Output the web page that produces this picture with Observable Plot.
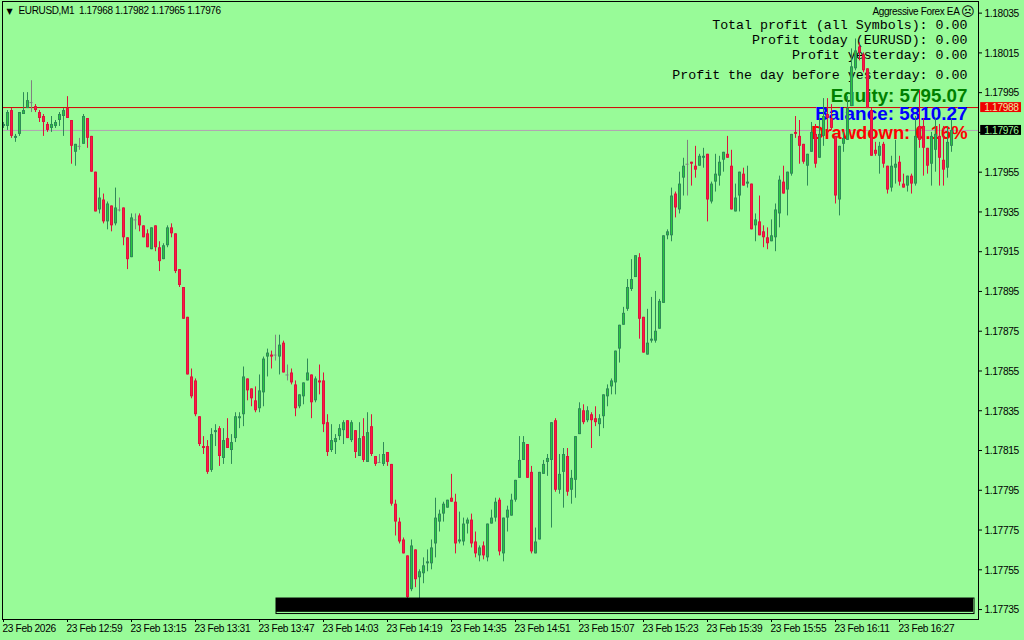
<!DOCTYPE html>
<html>
<head>
<meta charset="utf-8">
<script src="https://cdn.jsdelivr.net/npm/d3@7"></script>
<script src="https://cdn.jsdelivr.net/npm/@observablehq/plot@0.6"></script>
<style>html,body{margin:0;padding:0;background:#98FB98}svg{display:block}
[aria-label="x-axis tick label"] text,[aria-label="y-axis tick label"] text,.tah text{letter-spacing:-0.36px}</style>
</head>
<body>
<div id="chart"></div>
<script>
// Prices are stored as points above 1.17000
const opens = [
978,978,986,972,974,984,987,990,988,985,
983,979,977,978,981,983,987,981,965,968,
969,982,973,955,936,941,930,938,929,936,
937,922,912,931,933,928,924,916,928,917,
911,918,927,924,906,897,882,852,850,832,
817,817,805,824,826,811,821,815,821,831,
833,851,846,840,836,844,862,863,863,862,
869,853,854,848,837,842,850,853,840,850,
850,829,815,819,822,825,830,820,825,812,
822,809,827,812,809,808,814,808,788,779,
770,762,745,765,751,753,758,758,768,779,
783,786,791,789,769,769,778,780,769,762,
767,761,778,781,790,763,781,782,790,801,
810,818,804,763,770,803,809,810,830,795,
804,812,795,800,823,835,830,833,831,828,
832,842,847,849,866,878,886,896,902,912,
882,863,870,870,876,889,923,923,944,936,
952,959,960,958,958,962,964,940,950,953,
961,964,958,935,943,954,949,949,928,930,
925,922,920,922,934,950,946,954,975,973,
969,958,965,974,962,973,984,982,973,941,
969,971,988,1007,1018,1014,1007,986,966,963,
969,958,947,957,960,949,948,953,949,978,
978,967,959,966,973,961,957,968];
const closes = [
979,985,973,973,985,986,991,990,986,982,
980,976,979,980,984,986,982,968,969,968,
983,972,955,935,942,930,939,928,937,936,
922,911,932,931,928,922,917,927,917,910,
918,927,924,905,898,881,853,842,833,818,
816,804,823,825,812,820,816,819,832,832,
852,845,841,835,845,861,864,862,863,868,
854,853,849,836,843,849,854,839,851,849,
828,814,820,821,826,829,821,829,814,821,
810,824,813,808,809,813,809,788,779,769,
763,741,767,750,754,757,759,766,781,783,
788,790,789,768,770,778,780,768,763,766,
762,778,781,789,764,781,785,790,800,810,
819,801,764,769,804,808,811,829,795,803,
813,794,801,822,836,829,835,830,829,831,
843,846,850,865,878,884,897,901,913,881,
864,869,871,875,890,923,925,943,937,949,
958,959,959,956,963,963,941,949,954,960,
965,962,936,942,955,948,950,926,931,923,
922,919,923,936,951,944,955,974,974,968,
960,964,975,959,974,983,982,977,943,968,
972,987,1008,1016,1015,1006,987,963,964,968,
959,946,958,959,950,947,953,949,973,971,
967,958,973,974,962,956,970,976];
const highs = [
980,986,987,974,985,995,995,1001,989,986,
984,980,983,981,985,987,993,981,969,972,
984,982,973,955,947,944,940,938,947,942,
937,922,934,934,934,928,926,927,928,920,
919,928,929,924,906,897,882,856,851,832,
822,820,826,828,827,826,831,823,834,834,
857,851,846,847,853,862,866,865,873,873,
870,858,856,850,843,849,861,853,852,858,
854,833,828,823,828,830,830,830,825,829,
831,834,833,812,813,819,814,808,790,781,
771,762,770,765,755,761,765,770,791,785,
789,790,803,793,784,781,781,783,774,767,
769,778,785,791,791,781,787,793,800,822,
822,818,807,776,804,810,813,829,831,813,
816,816,805,822,839,838,837,834,837,833,
843,848,851,865,878,887,901,911,913,914,
882,886,892,895,891,923,926,947,945,955,
962,971,960,968,964,967,964,950,964,963,
965,973,966,949,955,957,958,949,934,943,
928,927,931,939,953,958,955,974,983,981,
969,964,980,979,982,992,992,989,973,968,
975,993,1017,1022,1020,1015,1007,987,970,970,
970,958,963,971,963,954,953,954,983,996,
982,967,975,982,979,978,978,982];
const lows = [
977,976,972,970,973,984,987,985,985,980,
973,975,975,977,978,973,982,959,958,966,
969,967,955,935,934,929,926,925,928,935,
918,906,912,926,925,922,917,916,915,905,
911,917,922,904,897,881,853,841,832,817,
813,803,804,817,807,808,816,808,819,826,
827,840,837,834,834,837,852,856,860,853,
854,850,848,832,836,838,850,831,839,843,
824,812,814,813,820,818,821,819,811,812,
809,809,812,807,809,807,807,787,772,768,
763,740,744,746,740,748,754,755,761,774,
779,786,789,763,768,767,773,766,761,759,
760,759,778,779,762,759,774,782,789,801,
810,801,763,763,770,803,802,776,794,793,
786,792,788,791,823,828,829,816,827,822,
826,837,843,843,859,878,885,895,902,871,
864,863,869,869,876,889,921,920,932,934,
943,943,948,952,958,957,930,939,945,948,
955,962,936,935,935,948,947,926,920,923,
917,916,920,915,927,944,933,953,972,959,
959,948,965,957,962,968,974,976,939,933,
965,971,988,1006,1011,1005,987,963,963,954,
957,944,945,949,948,947,945,944,948,967,
953,954,948,955,948,948,952,965];

const timeLabels = ["23 Feb 2026","23 Feb 12:59","23 Feb 13:15","23 Feb 13:31","23 Feb 13:47","23 Feb 14:03","23 Feb 14:19","23 Feb 14:35","23 Feb 14:51","23 Feb 15:07","23 Feb 15:23","23 Feb 15:39","23 Feb 15:55","23 Feb 16:11","23 Feb 16:27"];
const barsPerLabel = 16;
const priceTicks = [1.17735,1.17755,1.17775,1.17795,1.17815,1.17835,1.17855,1.17875,1.17895,1.17915,1.17935,1.17955,1.17975,1.17995,1.18015,1.18035];
const priceLabels = [1.17735,1.17755,1.17775,1.17795,1.17815,1.17835,1.17855,1.17875,1.17895,1.17915,1.17935,1.17955,1.17995,1.18015,1.18035];
const bidPrice = 1.17988;
const lastPrice = 1.17976;
const infoLines = ["Total profit (all Symbols): 0.00","Profit today (EURUSD): 0.00","Profit yesterday: 0.00","Profit the day before yesterday: 0.00"];
const statLines = ["Equity: 5795.07","Balance: 5810.27","Drawdown: 0.16%"];
const header = "EURUSD,M1  1.17968 1.17982 1.17965 1.17976";
const eaName = "Aggressive Forex EA";

const BG = "#98FB98";
const toPrice = p => 1.17 + p / 1e5;
const candles = closes.map((c, i) => ({
  i,
  open: toPrice(opens[i]), close: toPrice(c), high: toPrice(highs[i]), low: toPrice(lows[i]),
  top: toPrice(Math.max(opens[i], c)), bottom: toPrice(Math.min(opens[i], c))
}));
const up = candles.filter((d, i) => closes[i] > opens[i]);
const down = candles.filter((d, i) => closes[i] < opens[i]);
const flat = candles.filter((d, i) => closes[i] === opens[i]);
const tickIdx = timeLabels.map((_, k) => k * barsPerLabel);

const candleMarks = (rows, edge, fill) => [
  Plot.ruleX(rows, {x: "i", y1: "high", y2: "low", stroke: edge, strokeWidth: 1}),
  Plot.ruleX(rows, {x: "i", y1: "top", y2: "bottom", stroke: edge, strokeWidth: 3}),
  Plot.ruleX(rows, {x: "i", y1: "top", y2: "bottom", stroke: fill, strokeWidth: 1, insetTop: 1, insetBottom: 1})
];

const infoDy = [23, 38, 53, 73];
const statDy = [94.5, 112, 131.5];
const statSize = [18.8, 18.9, 18.4];
const statColor = ["#008000", "#0000FF", "#FF0000"];

const chart = Plot.plot({
  width: 1024, height: 640,
  marginLeft: 2, marginRight: 46, marginTop: 1, marginBottom: 21,
  style: {background: BG, fontFamily: "'Liberation Sans', sans-serif", fontSize: "10px", color: "#000"},
  x: {type: "linear", domain: [-0.25, 243.75], label: null},
  y: {type: "linear", domain: [1.1773, 1.1804085], label: null},
  marks: [
    Plot.ruleY([bidPrice], {stroke: "#D40000", strokeWidth: 1, dy: 1}),
    Plot.ruleY([lastPrice], {stroke: "#B4A0B4", strokeWidth: 1}),
    // overlay text sits under the candles
    infoLines.map((t, k) => Plot.text([t], {text: d => d, frameAnchor: "top-right", lineAnchor: "middle", dx: -11, dy: infoDy[k], fontFamily: "'Liberation Mono', monospace", fontSize: 13.3, fill: "#000"})),
    statLines.map((t, k) => Plot.text([t], {text: d => d, frameAnchor: "top-right", lineAnchor: "middle", dx: -11, dy: statDy[k], fontFamily: "'Liberation Sans', sans-serif", fontWeight: "bold", fontSize: statSize[k], fill: statColor[k]})),
    candleMarks(up, "#2E8B57", "#28C840"),
    candleMarks(down, "#DC143C", "#FF1744"),
    Plot.ruleX(flat, {x: "i", y1: "high", y2: "low", stroke: "#808080"}),
    Plot.ruleY(flat, {y: "close", x1: d => d.i - 0.375, x2: d => d.i + 0.375, stroke: "#808080"}),
    // black panel along the bottom
    Plot.rect([{a: 68.25, b: 242.75, c: 1.1773275, d: 1.1774055}], {x1: "a", x2: "b", y1: "c", y2: "d", fill: "none", stroke: "#000", strokeWidth: 1}),
    Plot.rect([{a: 68.25, b: 242.5, c: 1.177336, d: 1.1774055}], {x1: "a", x2: "b", y1: "c", y2: "d", fill: "#000"}),
    Plot.frame({stroke: "#000", strokeWidth: 1}),
    Plot.axisX(tickIdx, {anchor: "bottom", tickSize: 3, fill: "none", stroke: "#000"}),
    Plot.axisX(tickIdx, {anchor: "bottom", tickSize: 0, tickPadding: 4, dy: 1, textAnchor: "start", dx: -1, tickFormat: (d, k) => timeLabels[k], fill: "#000", fontSize: 10.2}),
    Plot.axisY(priceTicks, {anchor: "right", tickSize: 3, fill: "none", stroke: "#000"}),
    Plot.axisY(priceLabels, {anchor: "right", tickSize: 0, tickPadding: 6, dy: 0.5, tickFormat: d => d.toFixed(5), fill: "#000", fontSize: 10.2}),
    // current price tags
    Plot.rect([bidPrice], {x1: 244.3, x2: 254.5, y1: d => d - 0.000025, y2: d => d + 0.000025, dy: 1, fill: "#F00000"}),
    Plot.text([bidPrice], {x: 245.2, y: d => d, dy: 1, text: d => d.toFixed(5), textAnchor: "start", fill: "#E8E8A0", fontSize: 10.2, className: "tah"}),
    Plot.rect([lastPrice], {x1: 244.3, x2: 254.5, y1: d => d - 0.000025, y2: d => d + 0.000025, fill: "#000"}),
    Plot.text([lastPrice], {x: 245.2, y: d => d, text: d => d.toFixed(5), textAnchor: "start", fill: BG, fontSize: 10.2, className: "tah"}),
    // header
    Plot.text(["▼"], {text: d => d, frameAnchor: "top-left", lineAnchor: "middle", dx: 4, dy: 9.5, fontFamily: "'DejaVu Sans'", fontSize: 8, fill: "#000"}),
    Plot.text([header], {text: d => d, frameAnchor: "top-left", lineAnchor: "middle", dx: 16, dy: 9.5, fontSize: 10, fill: "#000", className: "tah"}),
    Plot.text([eaName], {text: d => d, frameAnchor: "top-right", lineAnchor: "middle", dx: -19, dy: 10.5, fontSize: 10, fill: "#000", className: "tah"}),
    Plot.text(["☹"], {text: d => d, frameAnchor: "top-right", lineAnchor: "middle", dx: -4, dy: 10, fontFamily: "'DejaVu Sans'", fontSize: 13, fill: "#000"})
  ]
});
document.getElementById("chart").appendChild(chart);
</script>
</body>
</html>
